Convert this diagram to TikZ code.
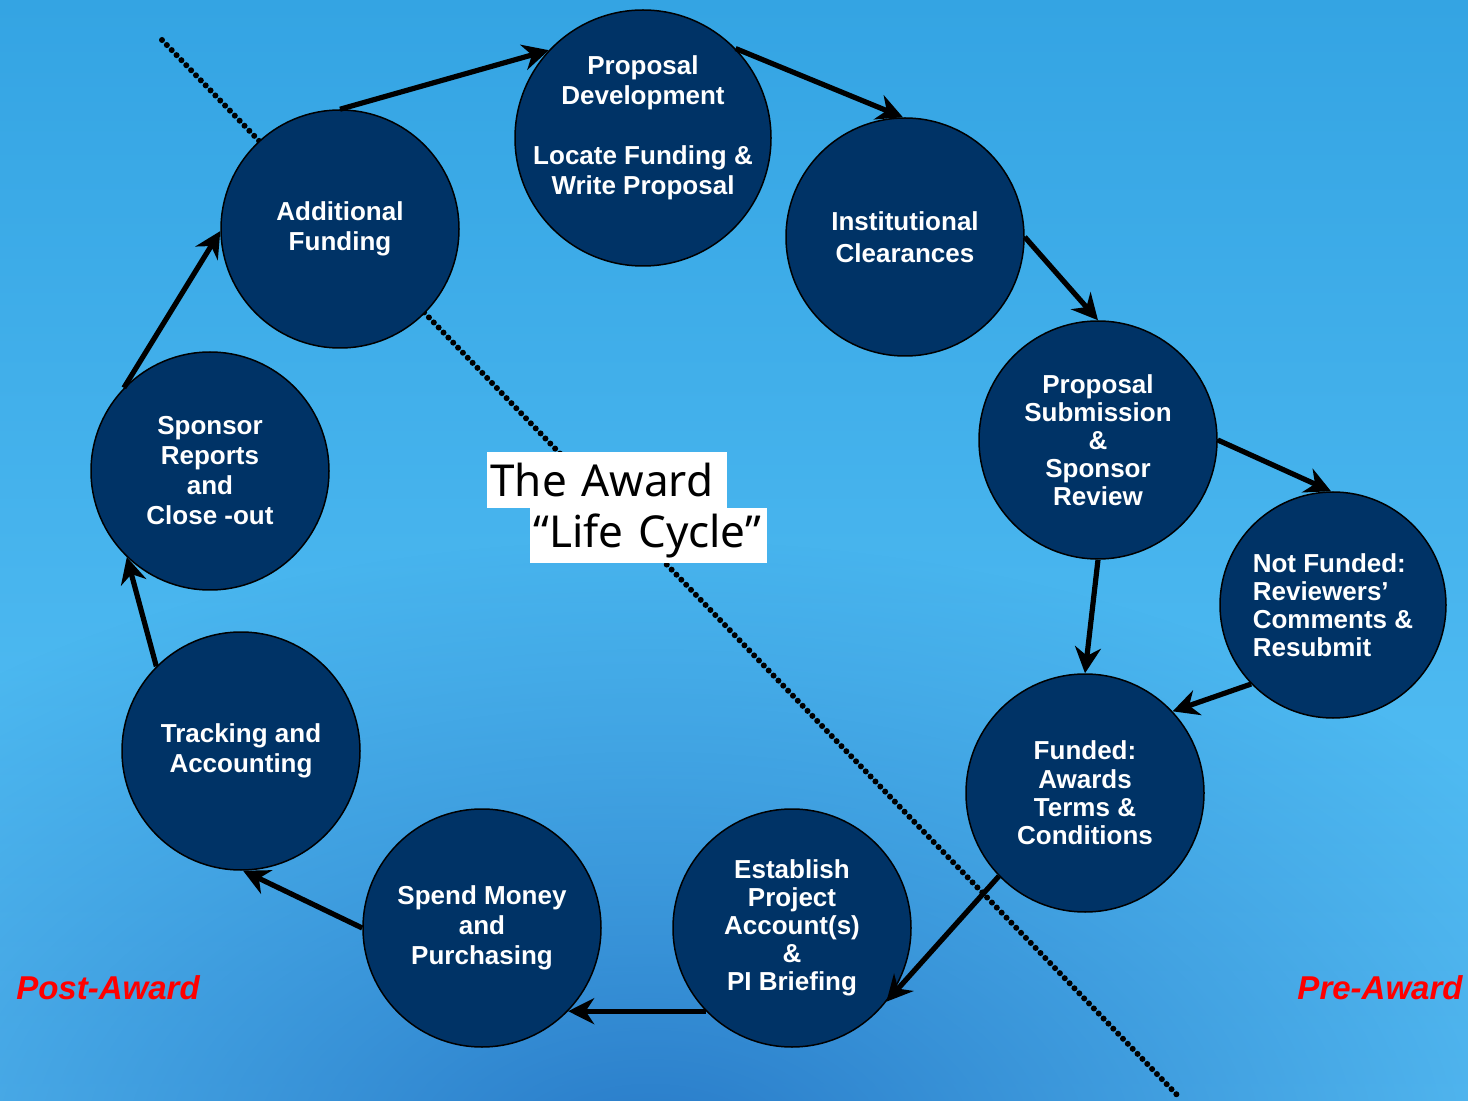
\documentclass[tikz,border=0pt]{standalone}
\usepackage{fontspec}
\setmainfont{Liberation Sans}
\newfontfamily\titlefont{Noto Sans}
\usetikzlibrary{arrows.meta,fadings,positioning}

\definecolor{navy}{RGB}{0,51,102}
\definecolor{bgtop}{RGB}{52,164,227}
\definecolor{bgmid}{RGB}{88,194,247}
\definecolor{bgbot}{RGB}{90,196,248}
\definecolor{bgdark}{RGB}{40,122,200}
\definecolor{awardred}{RGB}{255,0,0}

\tikzfading[name=glowfade,inner color=transparent!0,outer color=transparent!100]

\begin{document}
\begin{tikzpicture}[x=0.5pt,y=-0.5pt,
	stage/.style={circle,draw=black,line width=0.75pt,fill=navy,text=white,
		minimum size=119pt,inner sep=0pt,align=center,
		font=\bfseries\fontsize{13}{15}\selectfont},
	stagetext/.style={text=white,inner sep=0pt,align=center,
		font=\bfseries\fontsize{13}{15}\selectfont},
	flow/.style={line width=2.6pt,-{Stealth[length=13pt,width=13pt]}},
	divider/.style={line width=3pt,line cap=round,dash pattern=on 0pt off 3.5pt},
	titlebox/.style={fill=white,anchor=north west,inner xsep=1.5pt,inner ysep=0pt,
		align=left,font=\titlefont\fontsize{22}{26}\selectfont},
	phase/.style={text=awardred,font=\bfseries\itshape\fontsize{16.5}{20}\selectfont}]

	\useasboundingbox (0,0) rectangle (1468,1101);

	% fond
	\shade [top color=bgtop,middle color=bgmid,bottom color=bgbot] (0,0) rectangle (1468,1101);
	\fill [bgdark,path fading=glowfade] (650,1160) ellipse [x radius=1050, y radius=620];

	% ligne pointillee
	\coordinate (divtop) at (162,40);
	\coordinate (divbot) at (1180,1098);
	\draw [divider] (divtop) -- (divbot);

	% etapes
	\node [stage,minimum size=128pt] (dev) at (643,138) {};
	\node [stagetext,yshift=5pt] (devtext) at (dev.center)
		{Proposal\\Development\\[15pt]Locate Funding \&\\Write Proposal};
	\node [stage] (clear) at (905,237) {Institutional\\[1pt]Clearances};
	\node [stage,font=\bfseries\fontsize{13}{14}\selectfont] (submit) at (1098,440)
		{Proposal\\Submission\\\&\\Sponsor\\Review};
	\node [stage,minimum size=113pt,align=left,font=\bfseries\fontsize{13}{14}\selectfont]
		(notfund) at (1333,605) {Not Funded:\\Reviewers’\\Comments \&\\Resubmit};
	\node [stage,font=\bfseries\fontsize{13}{14.2}\selectfont] (fund) at (1085,793)
		{Funded:\\Awards\\Terms \&\\Conditions};
	\node [stage,font=\bfseries\fontsize{13}{14}\selectfont] (estab) at (792,928)
		{Establish\\Project\\Account(s)\\\&\\PI Briefing};
	\node [stage] (spend) at (482,928) {Spend Money\\and\\Purchasing};
	\node [stage] (track) at (241,751) {Tracking and\\Accounting};
	\node [stage] (report) at (210,471) {Sponsor\\Reports\\and\\Close -out};
	\node [stage] (addl) at (340,229) {Additional\\Funding};

	% fleches
	\draw [flow] (addl.90) -- (dev.137);
	\draw [flow] (dev.44) -- (clear.91);
	\draw [flow] (clear.0) -- (submit.90);
	\draw [flow] (submit.0) -- (notfund.91);
	\draw [flow] (submit.-90) -- (fund.90);
	\draw [flow] (notfund.224) -- (fund.43);
	\draw [flow] (fund.224) -- (estab.-38);
	\draw [flow] (estab.224) -- (spend.-44);
	\draw [flow] (spend.180) -- (track.-89);
	\draw [flow] (track.135) -- (report.226);
	\draw [flow] (report.136) -- (addl.181);

	% titre
	\node [titlebox,text width=117pt,minimum height=28pt] (title1) at (487,452) {The Award};
	\node [titlebox,text width=115.5pt,minimum height=27.5pt] (title2) at (530,508) {“Life Cycle”};

	% phases
	\node [phase] (post) at (108,988) {Post-Award};
	\node [phase] (pre) at (1380,988) {Pre-Award};
\end{tikzpicture}
\end{document}
